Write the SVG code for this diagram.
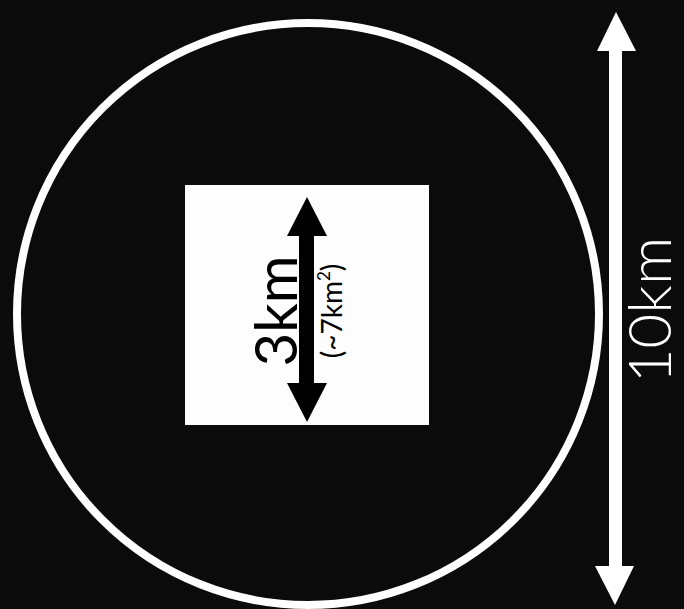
<svg xmlns="http://www.w3.org/2000/svg" width="684" height="609" viewBox="0 0 684 609">
<style>
.lbl{font-family:Lato,"Open Sans","Liberation Sans",sans-serif}
</style>
<rect x="0" y="0" width="684" height="609" fill="#0b0b0b"/>
<g id="circle">
<circle cx="308" cy="314" r="291" fill="none" stroke="#fff" stroke-width="8"/>
</g>
<g id="square">
<rect x="185" y="185" width="244" height="240" fill="#fdfdfd"/>
</g>
<g id="connectors">
<rect x="299" y="233" width="15" height="152" fill="#000"/>
<polygon points="307,197 327,236 287,236" fill="#000"/>
<polygon points="307,422 327,383 287,383" fill="#000"/>
<rect x="609" y="48" width="13" height="520" fill="#fff"/>
<polygon points="616,12 636,51 597,51" fill="#fff"/>
<polygon points="615,605 634,566 595,566" fill="#fff"/>
</g>
<g id="label-3km">
<text class="lbl" transform="translate(297,311) rotate(-90)" text-anchor="middle" font-size="58" fill="#000">3km</text>
</g>
<g id="label-7km2">
<text class="lbl" transform="translate(342,311) rotate(-90)" text-anchor="middle" font-size="28" fill="#000">(~7km<tspan font-size="17" dy="-12">2</tspan><tspan dy="12">)</tspan></text>
</g>
<g id="label-10km">
<text class="lbl" transform="translate(671,310) rotate(-90)" text-anchor="middle" font-size="60" font-weight="300" fill="#fff">10km</text>
</g>
</svg>
